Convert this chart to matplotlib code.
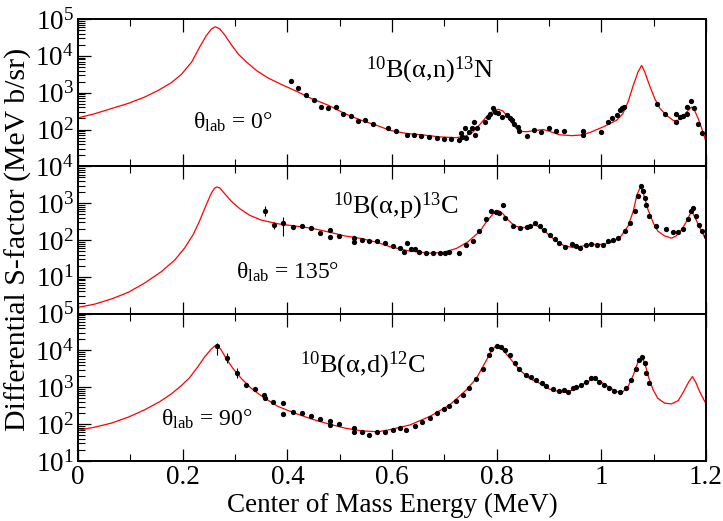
import numpy as np
import matplotlib
matplotlib.use("Agg")
import matplotlib.pyplot as plt
from matplotlib.ticker import LogLocator, NullFormatter, FuncFormatter, MultipleLocator

plt.rcParams['font.family'] = ['Liberation Serif', 'DejaVu Serif']
plt.rcParams['mathtext.fontset'] = 'custom'
plt.rcParams['mathtext.rm'] = 'Liberation Serif'
plt.rcParams['mathtext.it'] = 'Liberation Serif:italic'
plt.rcParams['mathtext.bf'] = 'Liberation Serif:bold'

# ---- 10B(a,n)13N, theta_lab = 0 deg ----
n_curve_e = [0.000, 0.032, 0.064, 0.096, 0.127, 0.153, 0.178, 0.197, 0.217, 0.232, 0.245, 0.255,
             0.262, 0.271, 0.280, 0.293, 0.306, 0.322, 0.341, 0.363, 0.389, 0.414, 0.446, 0.478,
             0.510, 0.541, 0.573, 0.596, 0.628, 0.660, 0.691, 0.723, 0.742, 0.755, 0.768, 0.780,
             0.793, 0.803, 0.812, 0.822, 0.833, 0.844, 0.857, 0.876, 0.889, 0.901, 0.920, 0.943,
             0.962, 0.978, 1.003, 1.029, 1.041, 1.051, 1.061, 1.070, 1.077, 1.083, 1.092, 1.102,
             1.112, 1.124, 1.137, 1.143, 1.153, 1.162, 1.172, 1.178, 1.185, 1.193, 1.199]
n_curve_s = [207, 269, 372, 513, 759, 1150, 1860, 3090, 6760, 17000, 35500, 53700,
             61700, 53700, 37200, 20000, 11200, 6760, 3980, 2510, 1660, 1150, 692, 457,
             269, 178, 126, 95, 78, 71, 63, 60, 68, 87, 138, 219,
             316, 355, 316, 209, 126, 89, 87, 95, 100, 89, 72, 68,
             71, 83, 117, 178, 269, 562, 1580, 3630, 5500, 3630, 1580, 692,
             372, 245, 178, 170, 200, 288, 407, 331, 200, 95, 51]
n_data_e = [0.406, 0.420, 0.436, 0.450, 0.464, 0.478, 0.492, 0.506, 0.521, 0.535, 0.549, 0.564,
            0.592, 0.608, 0.628, 0.642, 0.656, 0.671, 0.685, 0.699, 0.713, 0.727, 0.731, 0.733,
            0.739, 0.742, 0.747, 0.752, 0.756, 0.758, 0.763, 0.777, 0.784, 0.787, 0.792, 0.796,
            0.803, 0.811, 0.819, 0.825, 0.830, 0.833, 0.841, 0.843, 0.857, 0.871, 0.885, 0.899,
            0.914, 0.928, 0.964, 0.964, 1.000, 1.013, 1.021, 1.029, 1.035, 1.040, 1.043, 1.107,
            1.121, 1.142, 1.143, 1.150, 1.156, 1.163, 1.164, 1.172, 1.178, 1.185, 1.193]
n_data_s = [2140, 1380, 871, 646, 417, 372, 398, 269, 229, 170, 186, 138,
            112, 91, 72, 72, 68, 62, 60, 55, 54, 51, 78, 63,
            107, 58, 87, 107, 155, 72, 112, 155, 219, 269, 372, 302,
            288, 219, 245, 209, 186, 145, 117, 89, 66, 95, 83, 112,
            89, 89, 89, 71, 87, 155, 200, 245, 331, 372, 417, 501,
            257, 269, 155, 219, 234, 269, 407, 603, 372, 138, 78]

# ---- 10B(a,p)13C, theta_lab = 135 deg ----
p_curve_e = [0.000, 0.032, 0.064, 0.096, 0.127, 0.159, 0.185, 0.204, 0.220, 0.232, 0.245, 0.255,
             0.261, 0.265, 0.271, 0.280, 0.293, 0.309, 0.328, 0.350, 0.382, 0.414, 0.446, 0.478,
             0.510, 0.541, 0.573, 0.596, 0.634, 0.672, 0.698, 0.723, 0.745, 0.768, 0.780, 0.793,
             0.803, 0.812, 0.822, 0.835, 0.850, 0.863, 0.873, 0.882, 0.895, 0.911, 0.927, 0.946,
             0.965, 0.984, 1.003, 1.022, 1.038, 1.051, 1.061, 1.068, 1.075, 1.081, 1.089, 1.099,
             1.108, 1.121, 1.134, 1.143, 1.153, 1.163, 1.169, 1.173, 1.178, 1.185, 1.193, 1.200]
p_curve_s = [1.48, 1.82, 2.51, 3.80, 6.76, 13.8, 28.8, 61.7, 141, 324, 912, 1910,
             2570, 2750, 2570, 1820, 1120, 708, 468, 347, 275, 240, 209, 166,
             129, 110, 85, 66, 50, 44, 46, 59, 89, 174, 309, 513,
             631, 513, 347, 240, 214, 240, 257, 224, 158, 100, 72, 62,
             69, 76, 76, 89, 129, 240, 603, 1700, 2750, 1700, 676, 295,
             174, 129, 112, 129, 186, 324, 490, 575, 447, 263, 158, 100]
p_data_e = [0.410, 0.428, 0.445, 0.463, 0.481, 0.481, 0.499, 0.527, 0.527, 0.543, 0.556, 0.571,
            0.586, 0.602, 0.615, 0.622, 0.629, 0.637, 0.643, 0.652, 0.664, 0.678, 0.691, 0.701,
            0.709, 0.728, 0.742, 0.755, 0.766, 0.780, 0.790, 0.798, 0.805, 0.812, 0.815, 0.831,
            0.844, 0.857, 0.863, 0.874, 0.882, 0.890, 0.901, 0.911, 0.920, 0.930, 0.943, 0.951,
            0.959, 0.971, 0.981, 0.991, 1.003, 1.013, 1.022, 1.032, 1.045, 1.054, 1.064, 1.070,
            1.075, 1.080, 1.083, 1.086, 1.092, 1.105, 1.124, 1.137, 1.147, 1.156, 1.166, 1.171,
            1.175, 1.180, 1.187, 1.193, 1.200]
p_data_s = [229, 240, 209, 158, 186, 120, 129, 115, 89, 100, 93, 93,
            81, 69, 62, 48, 81, 56, 56, 46, 43, 43, 43, 43,
            48, 44, 72, 93, 174, 363, 603, 575, 550, 871, 389, 240,
            214, 224, 240, 282, 240, 182, 141, 105, 85, 66, 76, 69,
            62, 72, 79, 72, 74, 93, 100, 110, 174, 295, 603, 1550,
            2880, 2090, 1380, 871, 447, 240, 195, 170, 170, 195, 363, 603,
            741, 447, 263, 174, 129]
p_err_e = [0.357, 0.375, 0.392]
p_err_s = [603, 251, 282]
p_err_lo = [447, 195, 129]
p_err_hi = [832, 316, 427]

# ---- 10B(a,d)12C, theta_lab = 90 deg ----
d_curve_e = [0.000, 0.032, 0.064, 0.096, 0.127, 0.156, 0.178, 0.197, 0.213, 0.229, 0.242, 0.254,
             0.261, 0.266, 0.273, 0.283, 0.296, 0.312, 0.331, 0.354, 0.382, 0.414, 0.446, 0.478,
             0.510, 0.541, 0.573, 0.596, 0.634, 0.672, 0.710, 0.742, 0.761, 0.777, 0.790, 0.798,
             0.806, 0.815, 0.828, 0.844, 0.863, 0.882, 0.901, 0.920, 0.933, 0.949, 0.968, 0.984,
             0.997, 1.013, 1.029, 1.041, 1.051, 1.061, 1.070, 1.077, 1.083, 1.091, 1.099, 1.108,
             1.121, 1.134, 1.147, 1.157, 1.167, 1.174, 1.180, 1.188, 1.200]
d_curve_s = [68, 83, 107, 155, 245, 407, 661, 1100, 1820, 3630, 6760, 10700,
             13200, 13500, 10700, 6030, 3240, 1740, 933, 537, 302, 200, 138, 102,
             78, 66, 62, 71, 95, 162, 331, 851, 1740, 4470, 9770, 13200,
             12600, 9120, 5500, 2950, 1740, 1290, 891, 759, 724, 891, 1290, 1700,
             1480, 1050, 759, 759, 1050, 2140, 4900, 6760, 4470, 1740, 851, 501,
             372, 355, 437, 759, 1410, 1950, 1410, 759, 355]
d_data_e = [0.320, 0.357, 0.373, 0.392, 0.410, 0.428, 0.445, 0.463, 0.481, 0.481, 0.499, 0.527,
            0.527, 0.543, 0.556, 0.571, 0.586, 0.602, 0.615, 0.627, 0.643, 0.657, 0.672, 0.685,
            0.699, 0.709, 0.723, 0.735, 0.747, 0.761, 0.774, 0.785, 0.790, 0.800, 0.809, 0.815,
            0.826, 0.835, 0.843, 0.856, 0.866, 0.876, 0.886, 0.895, 0.908, 0.920, 0.929, 0.936,
            0.945, 0.952, 0.962, 0.971, 0.981, 0.987, 0.996, 1.006, 1.015, 1.024, 1.035, 1.048,
            1.057, 1.066, 1.072, 1.077, 1.083, 1.086, 1.091]
d_data_s = [1150, 501, 389, 191, 219, 200, 170, 138, 123, 95, 102, 78,
            62, 63, 51, 63, 63, 71, 78, 71, 89, 112, 145, 200,
            257, 316, 437, 617, 933, 1660, 3240, 7410, 11200, 13500, 12600, 10200,
            7410, 4470, 3240, 2140, 1860, 1580, 1290, 1100, 891, 813, 851, 724,
            933, 1050, 1150, 1410, 1740, 1740, 1410, 1150, 933, 813, 759, 933,
            1580, 3240, 5500, 6460, 4470, 2400, 1290]
d_err_e = [0.266, 0.285, 0.303, 0.339, 0.355, 0.392]
d_err_s = [13200, 6310, 2400, 891, 617, 372]
d_err_lo = [7410, 4680, 1740, 794, 537, 331]
d_err_hi = [15500, 8320, 3390, 1000, 708, 417]

panels = [
    dict(ce=n_curve_e, cs=n_curve_s, de=n_data_e, ds=n_data_s, err=None,
         ylim=(1e1, 1e5), title=r'$^{10}$B(α,n)$^{13}$N', tpos=(0.459, 0.60),
         theta='θ$_{\\rm lab}$ = 0°', thpos=(0.183, 0.254)),
    dict(ce=p_curve_e, cs=p_curve_s, de=p_data_e, ds=p_data_s,
         err=(p_err_e, p_err_s, p_err_lo, p_err_hi),
         ylim=(1e0, 1e4), title=r'$^{10}$B(α,p)$^{13}$C', tpos=(0.406, 0.678),
         theta='θ$_{\\rm lab}$ = 135°', thpos=(0.252, 0.237)),
    dict(ce=d_curve_e, cs=d_curve_s, de=d_data_e, ds=d_data_s,
         err=(d_err_e, d_err_s, d_err_lo, d_err_hi),
         ylim=(1e1, 1e5), title=r'$^{10}$B(α,d)$^{12}$C', tpos=(0.353, 0.603),
         theta='θ$_{\\rm lab}$ = 90°', thpos=(0.132, 0.237)),
]

fig, axes = plt.subplots(3, 1, figsize=(7.23, 5.21), dpi=100, sharex=True)
fig.subplots_adjust(left=0.108, right=0.9765, bottom=0.1152, top=0.9635, hspace=0)


def log_label(lo):
    def f(v, pos):
        if v <= lo * 1.01:
            return ''
        return r'$\mathdefault{10^{%d}}$' % int(round(np.log10(v)))
    return f


for i, (ax, p) in enumerate(zip(axes, panels)):
    ax.plot(p['ce'], p['cs'], color='red', lw=0.9, zorder=2)
    ax.plot(p['de'], p['ds'], 'o', color='black', ms=3.8, mew=0, zorder=3)
    if p['err'] is not None:
        ee, es, elo, ehi = p['err']
        yerr = [np.array(es) - np.array(elo), np.array(ehi) - np.array(es)]
        ax.errorbar(ee, es, yerr=yerr, fmt='o', color='black', ms=3.8, mew=0,
                    elinewidth=0.8, capsize=2, capthick=0.8, zorder=3)
    ax.set_yscale('log')
    ax.set_ylim(*p['ylim'])
    ax.set_xlim(0, 1.2)
    ax.yaxis.set_major_locator(LogLocator(base=10, numticks=10))
    ax.yaxis.set_minor_locator(LogLocator(base=10, subs=np.arange(2, 10), numticks=10))
    ax.yaxis.set_minor_formatter(NullFormatter())
    lo = p['ylim'][0] if i < 2 else 0
    ax.yaxis.set_major_formatter(FuncFormatter(log_label(lo)))
    ax.xaxis.set_major_locator(MultipleLocator(0.2))
    ax.xaxis.set_minor_locator(MultipleLocator(0.1))
    ax.xaxis.set_major_formatter(FuncFormatter(lambda v, pos: '%g' % round(v, 2)))
    ax.tick_params(which='both', direction='in', top=True, right=False,
                   labelsize=19.5, pad=3)
    ax.tick_params(which='major', length=9, width=0.9)
    ax.tick_params(which='minor', length=5, width=0.8)
    for s in ax.spines.values():
        s.set_linewidth(1.4)
    ax.text(p['tpos'][0], p['tpos'][1], p['title'], transform=ax.transAxes,
            fontsize=19, ha='left', va='baseline')
    ax.text(p['thpos'][0], p['thpos'][1], p['theta'], transform=ax.transAxes,
            fontsize=17, ha='left', va='baseline')

axes[-1].set_xlabel('Center of Mass Energy (MeV)', fontsize=19.5, labelpad=2)
fig.text(0.025, 0.54, 'Differential S-factor (MeV b/sr)', rotation=90,
         fontsize=21.5, ha='center', va='center')

fig.savefig('out.png', dpi=100)
